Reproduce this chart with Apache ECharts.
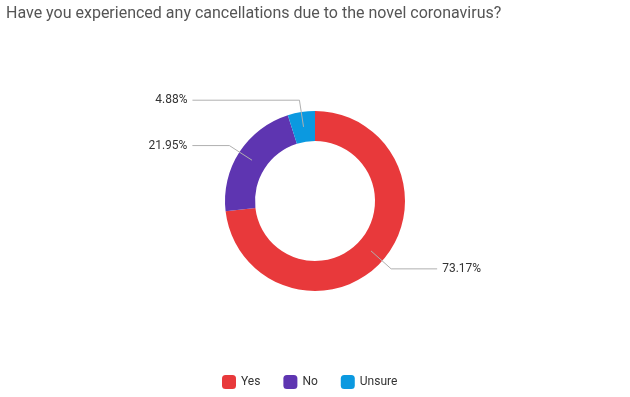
<!DOCTYPE html>
<html>
<head>
<meta charset="utf-8">
<script src="https://cdn.jsdelivr.net/npm/echarts@6/dist/echarts.min.js"></script>
<style>
html,body{margin:0;padding:0;background:#fff;}
#chart{width:630px;height:397px;}
</style>
</head>
<body>
<div id="chart"></div>
<script>
const titleText = 'Have you experienced any cancellations due to the novel coronavirus?';
const categories = ['Yes', 'No', 'Unsure'];
const values = [73.17, 21.95, 4.88];
const colors = ['#e8393b', '#5e35b1', '#0b99e0'];
const labelLine2 = [46, 37, 107];

const chart = echarts.init(document.getElementById('chart'), null, {renderer: 'canvas'});
const fontFamily = 'Roboto, "Noto Sans", sans-serif';

const ringData = categories.map((c, i) => ({name: c, value: values[i], itemStyle: {color: colors[i]}}));
const labelData = categories.map((c, i) => ({
  name: c, value: values[i],
  labelLine: {length2: labelLine2[i]}
}));

chart.setOption({
  animation: false,
  backgroundColor: '#fff',
  title: {
    text: titleText,
    left: 1, top: 1,
    textStyle: {fontFamily, fontSize: 16, fontWeight: 'normal', color: '#555'}
  },
  legend: {
    data: categories,
    bottom: 3,
    left: 217,
    icon: 'roundRect',
    itemWidth: 14, itemHeight: 14, itemGap: 23,
    textStyle: {fontFamily, fontSize: 12, color: '#333'}
  },
  series: [
    {
      type: 'pie',
      center: [315, 201],
      radius: [60, 90],
      startAngle: 90,
      clockwise: true,
      label: {show: false},
      labelLine: {show: false},
      emphasis: {disabled: true},
      data: ringData,
      z: 2
    },
    {
      type: 'pie',
      center: [315, 201],
      radius: [0, 75],
      startAngle: 90,
      clockwise: true,
      silent: true,
      itemStyle: {color: 'rgba(0,0,0,0)'},
      label: {
        show: true,
        formatter: p => p.value.toFixed(2) + '%',
        fontFamily, fontSize: 12, color: '#333',
        distanceToLabelLine: 5
      },
      labelLine: {show: true, showAbove: true, length: 27, length2: 37, smooth: false,
        lineStyle: {color: '#b0b0b0', width: 1}},
      legendHoverLink: false,
      emphasis: {disabled: true},
      data: labelData,
      z: 3
    }
  ]
});
</script>
</body>
</html>
